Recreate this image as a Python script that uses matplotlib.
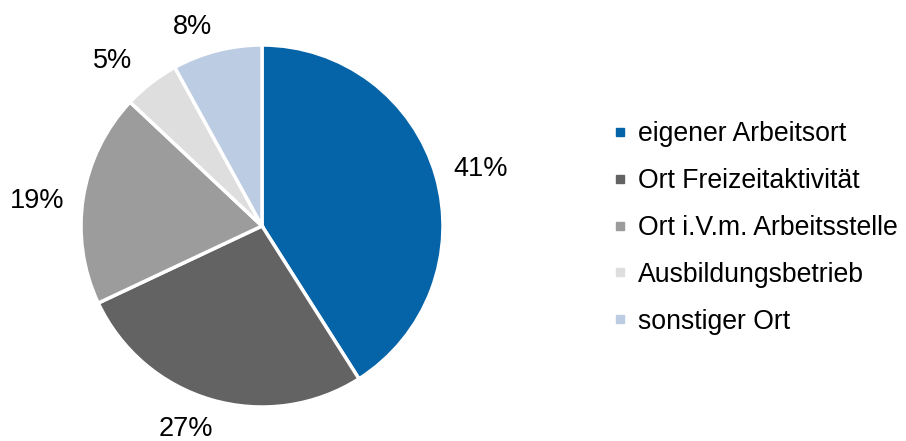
import matplotlib
matplotlib.use("Agg")
import numpy as np
import matplotlib.pyplot as plt
from matplotlib.lines import Line2D

plt.rcParams['font.family'] = ['Liberation Sans', 'DejaVu Sans']

categories = ["eigener Arbeitsort", "Ort Freizeitaktivität", "Ort i.V.m. Arbeitsstelle",
              "Ausbildungsbetrieb", "sonstiger Ort"]
values = [41, 27, 19, 5, 8]
colors = ["#0563A8", "#636363", "#9C9C9C", "#DEDEDE", "#BCCCE3"]

# small label nudges (pixels) to mimic the original label placement
label_nudge_px = [(0, -2), (-13, 1), (0, -8), (-15, -3), (-15, -6)]

R_PX = 181.0
FS = 19.5
fig = plt.figure(figsize=(9.06, 4.41), dpi=100)
ax = fig.add_axes([81/906, 34/441, 362/906, 362/441])
wedges, texts, autotexts = ax.pie(
    values, colors=colors, startangle=90, counterclock=False,
    autopct=lambda p: f"{p:.0f}%", pctdistance=1.2,
    wedgeprops=dict(edgecolor="white", linewidth=2.5),
    textprops=dict(fontsize=FS, color="#000000"))
ax.set_xlim(-1, 1)
ax.set_ylim(-1, 1)
ax.set_aspect('equal')
ax.axis('off')

# outside-end placement: text box just outside the circle
gap = 21 / R_PX
hh = 10 / R_PX
for w, t, (nx, ny) in zip(wedges, autotexts, label_nudge_px):
    ang = np.deg2rad(0.5 * (w.theta1 + w.theta2))
    ux, uy = np.cos(ang), np.sin(ang)
    hw = (9 * len(t.get_text()) - 1) / R_PX
    x = (1 + gap) * ux + hw * ux + nx / R_PX
    y = (1 + gap) * uy + hh * uy + ny / R_PX
    t.set_position((x, y))
    t.set_ha('center')
    t.set_va('center')

handles = [Line2D([0], [0], marker='s', linestyle='none', markersize=6,
                  markerfacecolor=c, markeredgecolor=c) for c in colors]
fig.legend(handles, categories, loc='center left', bbox_to_anchor=(603/906, 0.483),
           frameon=False, fontsize=19.2, handlelength=0.5, handletextpad=0.4,
           labelspacing=0.78, borderaxespad=0)

fig.savefig("out.png", dpi=100)
